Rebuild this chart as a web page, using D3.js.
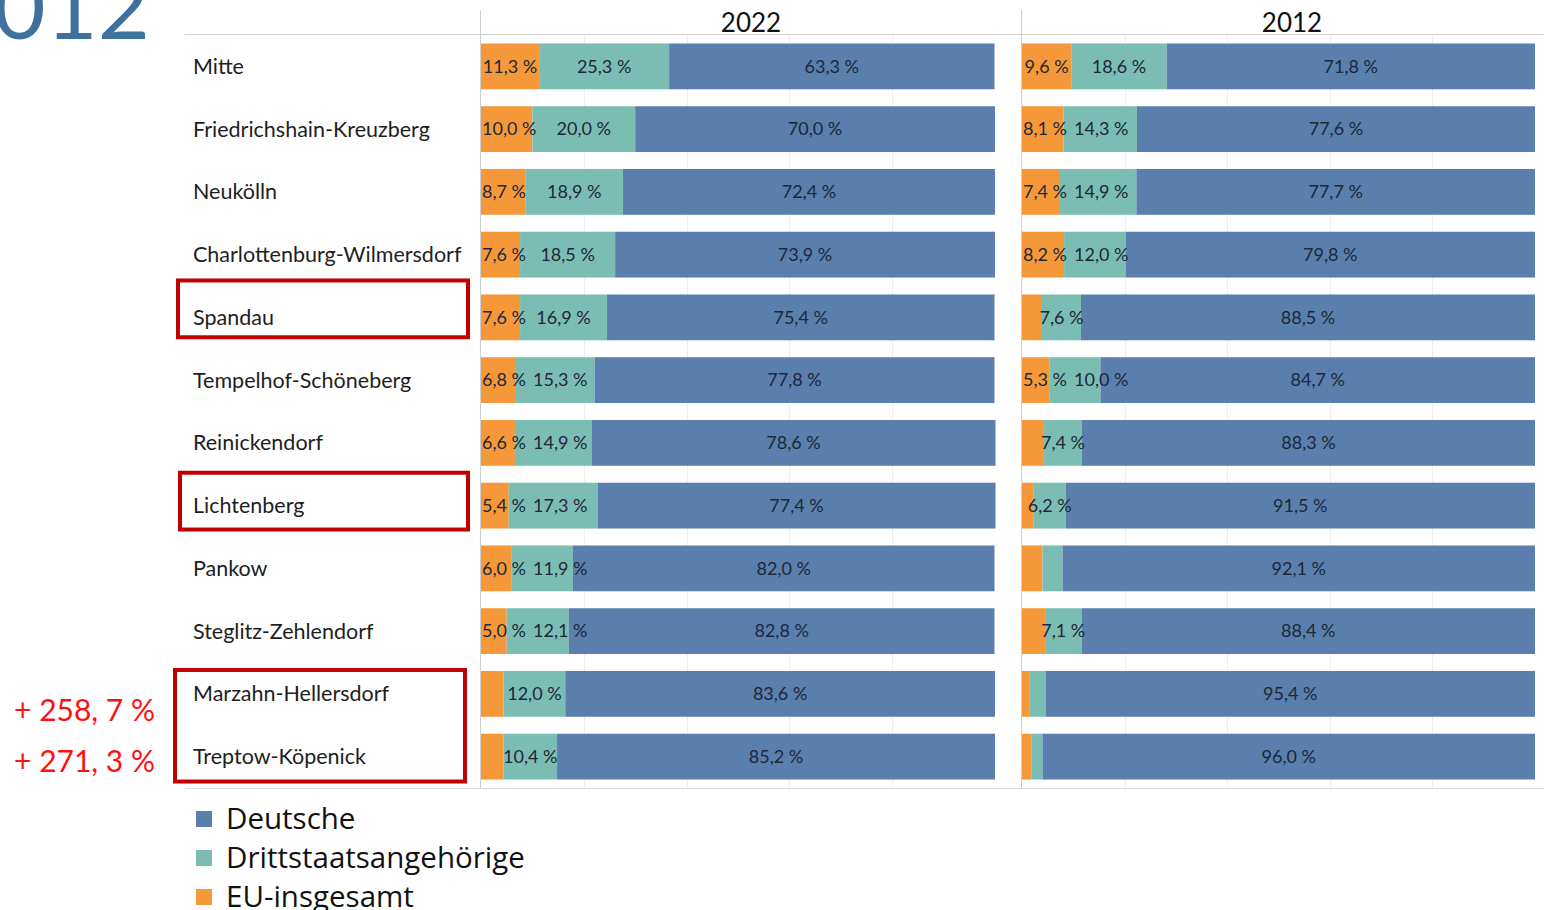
<!DOCTYPE html>
<html>
<head>
<meta charset="utf-8">
<script src="https://cdn.jsdelivr.net/npm/d3@7"></script>
<style>
  html, body { margin: 0; padding: 0; background: #fff; }
  svg { display: block; font-family: Lato, "Open Sans", sans-serif; }
</style>
</head>
<body>
<svg id="chart" width="1544" height="910"></svg>
<script>
/* Berlin districts: share of Deutsche / Drittstaatsangehörige / EU, 2022 vs 2012 */

const districts = [
  "Mitte", "Friedrichshain-Kreuzberg", "Neukölln", "Charlottenburg-Wilmersdorf",
  "Spandau", "Tempelhof-Schöneberg", "Reinickendorf", "Lichtenberg",
  "Pankow", "Steglitz-Zehlendorf", "Marzahn-Hellersdorf", "Treptow-Köpenick"
];

const years = ["2022", "2012"];

const eu2022       = [11.3, 10.0, 8.7, 7.6, 7.6, 6.8, 6.6, 5.4, 6.0, 5.0, 4.4, 4.4];
const dritt2022    = [25.3, 20.0, 18.9, 18.5, 16.9, 15.3, 14.9, 17.3, 11.9, 12.1, 12.0, 10.4];
const deutsche2022 = [63.3, 70.0, 72.4, 73.9, 75.4, 77.8, 78.6, 77.4, 82.0, 82.8, 83.6, 85.2];

const eu2012       = [9.6, 8.1, 7.4, 8.2, 3.9, 5.3, 4.3, 2.3, 4.0, 4.5, 1.4, 1.8];
const dritt2012    = [18.6, 14.3, 14.9, 12.0, 7.6, 10.0, 7.4, 6.2, 3.9, 7.1, 3.2, 2.2];
const deutsche2012 = [71.8, 77.6, 77.7, 79.8, 88.5, 84.7, 88.3, 91.5, 92.1, 88.4, 95.4, 96.0];

const seriesNames = ["EU-insgesamt", "Drittstaatsangehörige", "Deutsche"];
const legendOrder = ["Deutsche", "Drittstaatsangehörige", "EU-insgesamt"];

/* highlight boxes: first/last district, horizontal extent and vertical slack */
const highlighted = [
  { from: "Spandau",             to: "Spandau",          x: 178, w: 290, top: 14, bottom: -3 },
  { from: "Lichtenberg",         to: "Lichtenberg",      x: 180, w: 288, top: 10, bottom: 1 },
  { from: "Marzahn-Hellersdorf", to: "Treptow-Köpenick", x: 175, w: 290, top: 1,  bottom: 2 }
];
const growthNotes = [
  { district: "Marzahn-Hellersdorf", text: "+ 258, 7 %", shift: 17 },
  { district: "Treptow-Köpenick",    text: "+ 271, 3 %", shift: 5 }
];
const gridTicks = [20, 40, 60, 80];

const color = d3.scaleOrdinal()
  .domain(seriesNames)
  .range(["#f4983a", "#7cbdb3", "#5a7fac"]);

const dataByYear = {
  "2022": [eu2022, dritt2022, deutsche2022],
  "2012": [eu2012, dritt2012, deutsche2012]
};

const svg = d3.select("#chart");

const y = d3.scaleBand()
  .domain(districts)
  .range([35, 788])
  .paddingInner(0.27)
  .paddingOuter(0.135);

const panelX = {
  "2022": d3.scaleLinear().domain([0, 100]).range([481, 995]),
  "2012": d3.scaleLinear().domain([0, 100]).range([1022, 1535])
};
const PANEL_W = 540;

/* big title fragment, cut at the left edge */
svg.append("text")
  .attr("x", 150).attr("y", 39)
  .attr("text-anchor", "end")
  .attr("font-size", 90)
  .attr("fill", "#3e729c")
  .text("2012");

/* header rule and bottom rule */
svg.append("line")
  .attr("x1", 185).attr("x2", 1544).attr("y1", 34.5).attr("y2", 34.5)
  .attr("stroke", "#cfcfcf");
svg.append("line")
  .attr("x1", 185).attr("x2", 1544).attr("y1", 788.5).attr("y2", 788.5)
  .attr("stroke", "#dcdcdc");

const fmt = v => d3.format(".1f")(v).replace(".", ",") + " %";

years.forEach(yr => {
  const x = panelX[yr];

  /* faint gridlines */
  svg.append("g").selectAll("line")
    .data(gridTicks)
    .join("line")
    .attr("x1", d => Math.round(x(d)) + 0.5)
    .attr("x2", d => Math.round(x(d)) + 0.5)
    .attr("y1", 35).attr("y2", 788)
    .attr("stroke", "#eeeeee");

  /* panel left edge */
  svg.append("line")
    .attr("x1", Math.round(x(0)) - 0.5).attr("x2", Math.round(x(0)) - 0.5)
    .attr("y1", 10).attr("y2", 788)
    .attr("stroke", "#cfcfcf");

  /* year header, centred on the whole panel */
  svg.append("text")
    .attr("x", x(0) + PANEL_W / 2)
    .attr("y", 32)
    .attr("text-anchor", "middle")
    .attr("font-size", 26)
    .attr("fill", "#111")
    .text(yr);

  /* stack rows */
  const rows = districts.map((name, i) => {
    const obj = { district: name };
    seriesNames.forEach((s, k) => { obj[s] = dataByYear[yr][k][i]; });
    return obj;
  });
  const stacked = d3.stack().keys(seriesNames)(rows);

  const g = svg.append("g");
  stacked.forEach(layer => {
    g.append("g")
      .attr("fill", color(layer.key))
      .selectAll("rect")
      .data(layer)
      .join("rect")
      .attr("x", d => x(d[0]))
      .attr("width", d => x(d[1]) - x(d[0]))
      .attr("y", d => y(d.data.district))
      .attr("height", y.bandwidth());
  });

  /* value labels, only for segments of 5 % or more; pushed right to avoid clashes */
  const labels = g.append("g");
  districts.forEach((name, i) => {
    let prevEnd = x(0) + 1;
    let gap = 0;
    stacked.forEach(layer => {
      const d = layer[i];
      const v = d[1] - d[0];
      if (v < 5) return;
      const t = labels.append("text")
        .attr("y", y(name) + y.bandwidth() / 2)
        .attr("dy", "0.35em")
        .attr("font-size", 18)
        .attr("fill", "#1d2838")
        .text(fmt(v));
      const w = t.node().getComputedTextLength();
      const start = Math.max((x(d[0]) + x(d[1])) / 2 - w / 2, prevEnd + gap);
      t.attr("x", start);
      prevEnd = start + w;
      gap = 7;
    });
  });
});

/* district labels */
svg.append("g").selectAll("text")
  .data(districts)
  .join("text")
  .attr("x", 193)
  .attr("y", d => y(d) + y.bandwidth() / 2)
  .attr("dy", "0.35em")
  .attr("font-size", 21.5)
  .attr("fill", "#1e1e1e")
  .text(d => d);

/* red highlight boxes */
svg.append("g").selectAll("rect")
  .data(highlighted)
  .join("rect")
  .attr("x", d => d.x)
  .attr("width", d => d.w)
  .attr("y", d => y(d.from) - d.top)
  .attr("height", d => y(d.to) + y.bandwidth() + d.bottom - (y(d.from) - d.top))
  .attr("fill", "none")
  .attr("stroke", "#c00000")
  .attr("stroke-width", 4);

/* growth notes */
svg.append("g").selectAll("text")
  .data(growthNotes)
  .join("text")
  .attr("x", 155)
  .attr("y", d => y(d.district) + y.bandwidth() / 2 + d.shift)
  .attr("dy", "0.35em")
  .attr("text-anchor", "end")
  .attr("font-size", 30)
  .attr("fill", "#ff1010")
  .text(d => d.text);

/* legend */
const legend = svg.append("g").selectAll("g")
  .data(legendOrder)
  .join("g")
  .attr("transform", (d, i) => `translate(196, ${819 + i * 39})`);

legend.append("rect")
  .attr("x", 0).attr("y", -8)
  .attr("width", 16).attr("height", 16)
  .attr("fill", d => color(d));

legend.append("text")
  .attr("x", 30)
  .attr("dy", "0.35em")
  .attr("font-size", 29.5)
  .attr("font-family", "'Open Sans', sans-serif")
  .attr("fill", "#111")
  .text(d => d);
</script>
</body>
</html>
